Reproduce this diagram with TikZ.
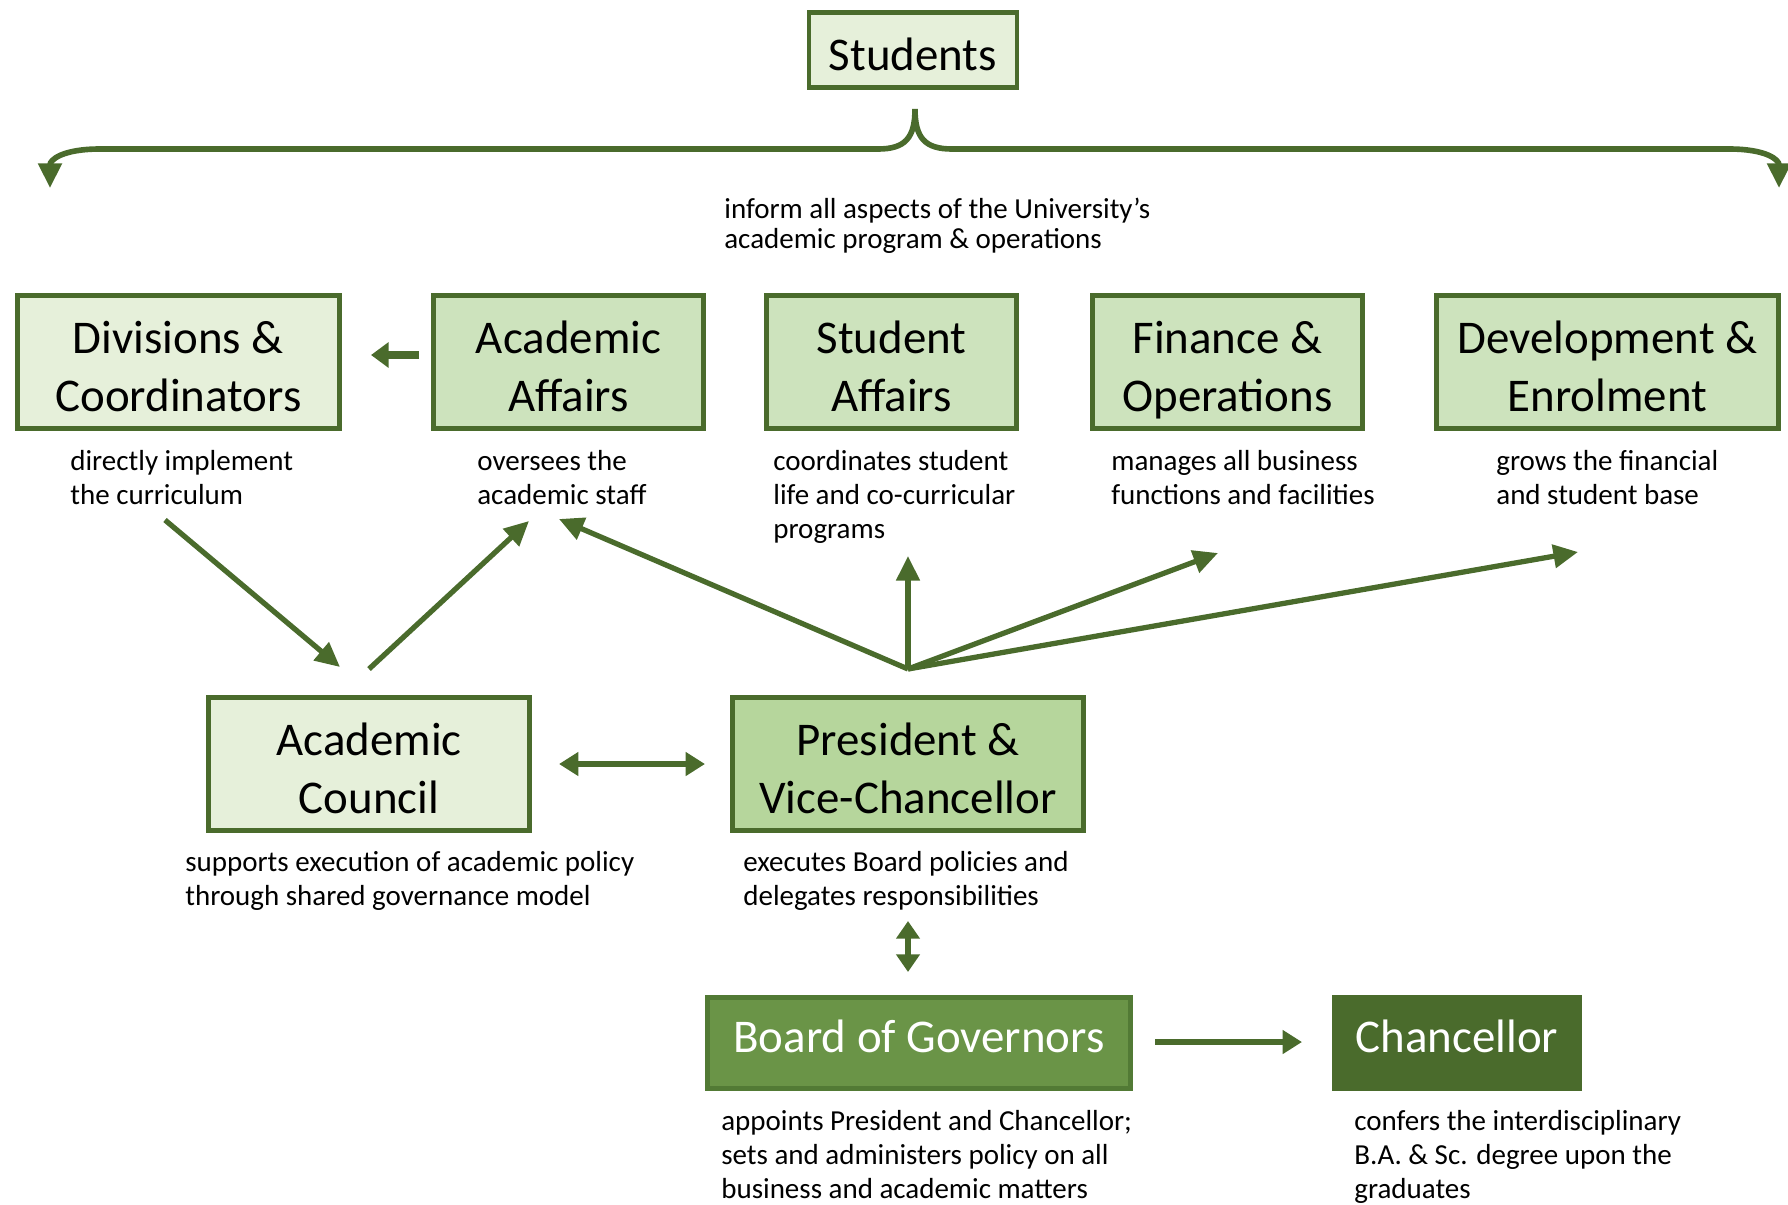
\documentclass[tikz,border=0pt]{standalone}
\usepackage{fontspec}
\setmainfont{Carlito}
\usetikzlibrary{arrows.meta}

\definecolor{grn}{RGB}{74,107,44}
\definecolor{palegrn}{RGB}{230,240,218}
\definecolor{lightgrn}{RGB}{205,227,189}
\definecolor{midgrn}{RGB}{182,214,156}
\definecolor{boardgrn}{RGB}{106,148,71}
\definecolor{boardline}{RGB}{82,122,53}

\newcommand{\boxfont}{\fontsize{26.7pt}{33pt}\selectfont}
\newcommand{\descfont}{\fontsize{16.5pt}{19.4pt}\selectfont}
\newcommand{\topstrut}{\rule{0pt}{33pt}}
\newcommand{\botstrut}{\rule[-9.9pt]{0pt}{1pt}}
\newcommand{\flatstrut}{\rule[-8pt]{0pt}{26.7pt}}

\tikzset{
  box/.style={draw=grn, line width=2.8pt, align=center, inner sep=0pt, font=\boxfont},
  desc/.style={anchor=north west, align=left, inner sep=0pt, font=\descfont},
  link/.style={draw=grn, line width=3pt, -{Triangle[length=14pt,width=13pt]}},
}

\begin{document}
\begin{tikzpicture}[x=0.02cm, y=-0.02cm]
      \useasboundingbox (0,0) rectangle (1788,1204);

      % Students
      \node[box, fill=palegrn, minimum width=4.16cm, minimum height=1.46cm] (stu) at (913,50) {\topstrut Students\botstrut};
      \node[desc, font=\fontsize{16.5pt}{16.8pt}\selectfont] (stud) at (724,198) {inform all aspects of the University’s\\academic program \& operations};

      % Top row
      \node[box, fill=palegrn, minimum width=6.44cm, minimum height=2.62cm] (div) at (178.5,362) {\topstrut Divisions \&\\Coordinators\botstrut};
      \node[box, fill=lightgrn, minimum width=5.40cm, minimum height=2.62cm] (aca) at (568.5,362) {\topstrut Academic\\Affairs\botstrut};
      \node[box, fill=lightgrn, minimum width=5.00cm, minimum height=2.62cm] (sa) at (891.5,362) {\topstrut Student\\Affairs\botstrut};
      \node[box, fill=lightgrn, minimum width=5.40cm, minimum height=2.62cm] (fin) at (1227.5,362) {\topstrut Finance \&\\Operations\botstrut};
      \node[box, fill=lightgrn, minimum width=6.84cm, minimum height=2.62cm] (dev) at (1607.5,362) {\topstrut Development \&\\Enrolment\botstrut};

      \node[desc] (divd) at (70,450) {directly implement\\the curriculum};
      \node[desc] (acad) at (477,450) {oversees the\\academic staff};
      \node[desc] (sad) at (773,450) {coordinates student\\life and co-curricular\\programs};
      \node[desc] (find) at (1111,450) {manages all business\\functions and facilities};
      \node[desc] (devd) at (1496,450) {grows the financial\\and student base};

      % Middle row
      \node[box, fill=palegrn, minimum width=6.42cm, minimum height=2.58cm] (ac) at (369,764) {\topstrut Academic\\Council\botstrut};
      \node[box, fill=midgrn, minimum width=7.02cm, minimum height=2.58cm] (pres) at (908,764) {\topstrut President \&\\Vice-Chancellor\botstrut};

      \node[desc] (acd) at (185,851) {supports execution of academic policy\\through shared governance model};
      \node[desc] (presd) at (743,851) {executes Board policies and\\delegates responsibilities};

      % Bottom row
      \node[box, draw=boardline, fill=boardgrn, text=white, minimum width=8.46cm, minimum height=1.82cm] (bog) at (919,1043) {\flatstrut Board of Governors};
      \node[box, fill=grn, text=white, minimum width=4.90cm, minimum height=1.82cm] (chan) at (1457,1043) {\flatstrut Chancellor};

      \node[desc] (bogd) at (721,1110) {appoints President and Chancellor;\\sets and administers policy on all\\business and academic matters};
      \node[desc] (chand) at (1354,1110) {confers the interdisciplinary\\B.A. \& Sc. degree upon the\\graduates};

      % Arrow ends
      \coordinate (brace) at (915,109);
      \coordinate (braceL) at (50,188);
      \coordinate (braceR) at (1779,188);
      \coordinate (hub) at (908,669);
      \coordinate (acaOut) at (419,355);
      \coordinate (divIn) at (371,355);
      \coordinate (divOut) at (165,520);
      \coordinate (acIn) at (340,667);
      \coordinate (acOut) at (369,669);
      \coordinate (acaIn) at (529,521);
      \coordinate (acaIn2) at (559,519);
      \coordinate (saIn) at (908,556);
      \coordinate (finIn) at (1218,553);
      \coordinate (devIn) at (1578,552);
      \coordinate (acR) at (559,764);
      \coordinate (presL) at (705,764);
      \coordinate (presB) at (908,921);
      \coordinate (bogT) at (908,972);
      \coordinate (bogR) at (1155,1042);
      \coordinate (chanL) at (1302,1042);

      % Brace from Students
      \draw[grn, line width=3.2pt, -{Triangle[length=14pt,width=13pt]}] (brace) .. controls (915,138) and (905,149) .. (878,149) -- (100,149) .. controls (62,149) and (50,160) .. (braceL);
      \draw[grn, line width=3.2pt, -{Triangle[length=14pt,width=13pt]}] (brace) .. controls (915,138) and (925,149) .. (952,149) -- (1729,149) .. controls (1767,149) and (1779,160) .. (braceR);

      % Arrows
      \draw[link, line width=4pt, -{Triangle[length=10pt,width=14pt]}] (acaOut) -- (divIn);
      \draw[link] (divOut) -- (acIn);
      \draw[link] (acOut) -- (acaIn);
      \draw[link] (hub) -- (acaIn2);
      \draw[link] (hub) -- (saIn);
      \draw[link] (hub) -- (finIn);
      \draw[link] (hub) -- (devIn);
      \draw[link, line width=3.5pt, {Triangle[length=11pt,width=13pt]}-{Triangle[length=11pt,width=13pt]}] (acR) -- (presL);
      \draw[link, line width=3.5pt, {Triangle[length=10pt,width=13pt]}-{Triangle[length=10pt,width=13pt]}] (presB) -- (bogT);
      \draw[link, line width=3.5pt, -{Triangle[length=11pt,width=13pt]}] (bogR) -- (chanL);

    \end{tikzpicture}
\end{document}
